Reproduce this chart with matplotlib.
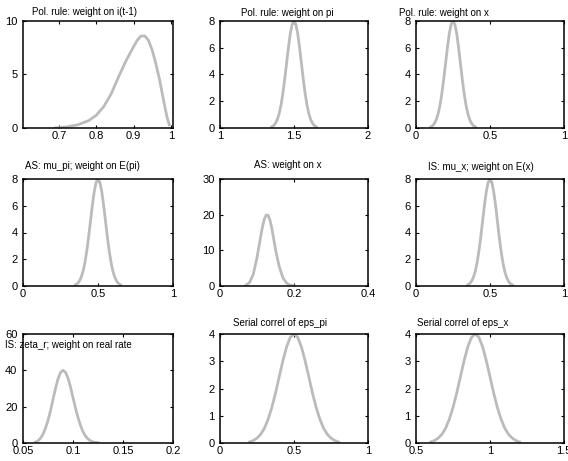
import matplotlib
matplotlib.use("Agg")
import matplotlib.pyplot as plt

plt.rcParams["font.family"] = ["Liberation Sans", "DejaVu Sans"]

# prior densities
x_irule = [0.69, 0.72, 0.75, 0.78, 0.80, 0.82, 0.84, 0.86, 0.88, 0.90, 0.91, 0.92,
           0.93, 0.94, 0.95, 0.96, 0.97, 0.98, 0.99, 0.996]
y_irule = [0.0, 0.1, 0.3, 0.7, 1.2, 2.0, 3.2, 4.8, 6.3, 7.6, 8.2, 8.6,
           8.6, 8.2, 7.3, 6.0, 4.5, 2.7, 1.0, 0.3]

peak8 = [0.09, 0.18, 0.35, 0.64, 1.08, 1.73, 2.60, 3.66, 4.85, 6.04, 7.06, 7.75, 8.00,
         7.75, 7.06, 6.04, 4.85, 3.66, 2.60, 1.73, 1.08, 0.64, 0.35, 0.18, 0.09]

x_pirule = [1.35 + 0.0125 * i for i in range(25)]
y_pirule = peak8
x_xrule = [0.10 + 0.0125 * i for i in range(25)]
y_xrule = peak8
x_mupi = [0.35 + 0.0125 * i for i in range(25)]
y_mupi = peak8

x_asx = [0.07, 0.08, 0.09, 0.10, 0.105, 0.11, 0.115, 0.12, 0.125, 0.13, 0.135, 0.14,
         0.145, 0.15, 0.155, 0.16, 0.17, 0.18, 0.19, 0.20]
y_asx = [0.2, 1.0, 3.3, 8.0, 10.9, 13.9, 16.7, 18.8, 19.9, 19.8, 18.5, 16.2,
         13.3, 10.3, 7.8, 5.5, 2.3, 0.8, 0.2, 0.05]

x_mux = [0.35 + 0.0125 * i for i in range(25)]
y_mux = peak8

x_zeta = [0.0625, 0.065, 0.0675, 0.07, 0.0725, 0.075, 0.0775, 0.08, 0.0825, 0.085,
          0.0875, 0.09, 0.0925, 0.095, 0.0975, 0.10, 0.1025, 0.105, 0.1075, 0.11,
          0.1125, 0.115, 0.1175, 0.12, 0.1225, 0.125]
y_zeta = [0.5, 1.2, 2.6, 4.8, 8.2, 12.4, 17.8, 24.0, 30.0, 35.3, 38.8, 40.0,
          38.9, 35.8, 30.8, 25.0, 19.2, 14.0, 9.7, 6.2, 3.8, 2.2, 1.2, 0.6, 0.3, 0.15]

peak4 = [0.04, 0.09, 0.18, 0.32, 0.54, 0.87, 1.30, 1.83, 2.43, 3.02, 3.53, 3.88, 4.00,
         3.88, 3.53, 3.02, 2.43, 1.83, 1.30, 0.87, 0.54, 0.32, 0.18, 0.09, 0.04]
x_epspi = [0.2 + 0.025 * i for i in range(25)]
y_epspi = peak4
x_epsx = [0.6 + 0.025 * i for i in range(25)]
y_epsx = peak4

titles = ["Pol. rule: weight on i(t-1)", "Pol. rule: weight on pi", "Pol. rule: weight on x",
          "AS: mu_pi; weight on E(pi)", "AS: weight on x", "IS: mu_x; weight on E(x)",
          "IS: zeta_r; weight on real rate", "Serial correl of eps_pi", "Serial correl of eps_x"]
xs = [x_irule, x_pirule, x_xrule, x_mupi, x_asx, x_mux, x_zeta, x_epspi, x_epsx]
ys = [y_irule, y_pirule, y_xrule, y_mupi, y_asx, y_mux, y_zeta, y_epspi, y_epsx]

xlims = [(0.603, 1.006), (1, 2), (0, 1), (0, 1), (0, 0.4), (0, 1), (0.05, 0.2), (0, 1), (0.5, 1.5)]
xticks = [([0.7, 0.8, 0.9, 1], ["0.7", "0.8", "0.9", "1"]),
          ([1, 1.5, 2], ["1", "1.5", "2"]),
          ([0, 0.5, 1], ["0", "0.5", "1"]),
          ([0, 0.5, 1], ["0", "0.5", "1"]),
          ([0, 0.2, 0.4], ["0", "0.2", "0.4"]),
          ([0, 0.5, 1], ["0", "0.5", "1"]),
          ([0.05, 0.1, 0.15, 0.2], ["0.05", "0.1", "0.15", "0.2"]),
          ([0, 0.5, 1], ["0", "0.5", "1"]),
          ([0.5, 1, 1.5], ["0.5", "1", "1.5"])]
yticks = [[0, 5, 10], [0, 2, 4, 6, 8], [0, 2, 4, 6, 8], [0, 2, 4, 6, 8], [0, 10, 20, 30],
          [0, 2, 4, 6, 8], [0, 20, 40, 60], [0, 1, 2, 3, 4], [0, 1, 2, 3, 4]]

W, H = 568, 461
col_px = [(23, 173), (220, 368), (416, 564)]
row_px = [(21, 128), (179, 286), (334, 443)]
title_px = [(85, 12), (287, 13), (444, 13), (82, 166), (288, 165), (481, 167),
            (68, 345), (280, 323), (463, 323)]

fig = plt.figure(figsize=(W / 100, H / 100), dpi=100)

for k in range(9):
    r, c = divmod(k, 3)
    l, rr = col_px[c]
    t, b = row_px[r]
    ax = fig.add_axes([l / W, 1 - b / H, (rr - l) / W, (b - t) / H])
    ax.plot(xs[k], ys[k], color="#bbbbbb", linewidth=2)
    ax.set_xlim(*xlims[k])
    ax.set_ylim(yticks[k][0], yticks[k][-1])
    ax.set_xticks(xticks[k][0])
    ax.set_xticklabels(xticks[k][1])
    ax.set_yticks(yticks[k])
    ax.set_yticklabels([str(v) for v in yticks[k]])
    ax.tick_params(direction="in", length=2.5, width=0.8, labelsize=8,
                   top=True, right=True)
    ax.tick_params(axis="x", pad=2)
    ax.tick_params(axis="y", pad=4)
    for s in ax.spines.values():
        s.set_linewidth(1.1)
    tx, ty = title_px[k]
    fig.text(tx / W, 1 - ty / H, titles[k], ha="center", va="center", fontsize=7)

fig.savefig("out.png", dpi=100)
